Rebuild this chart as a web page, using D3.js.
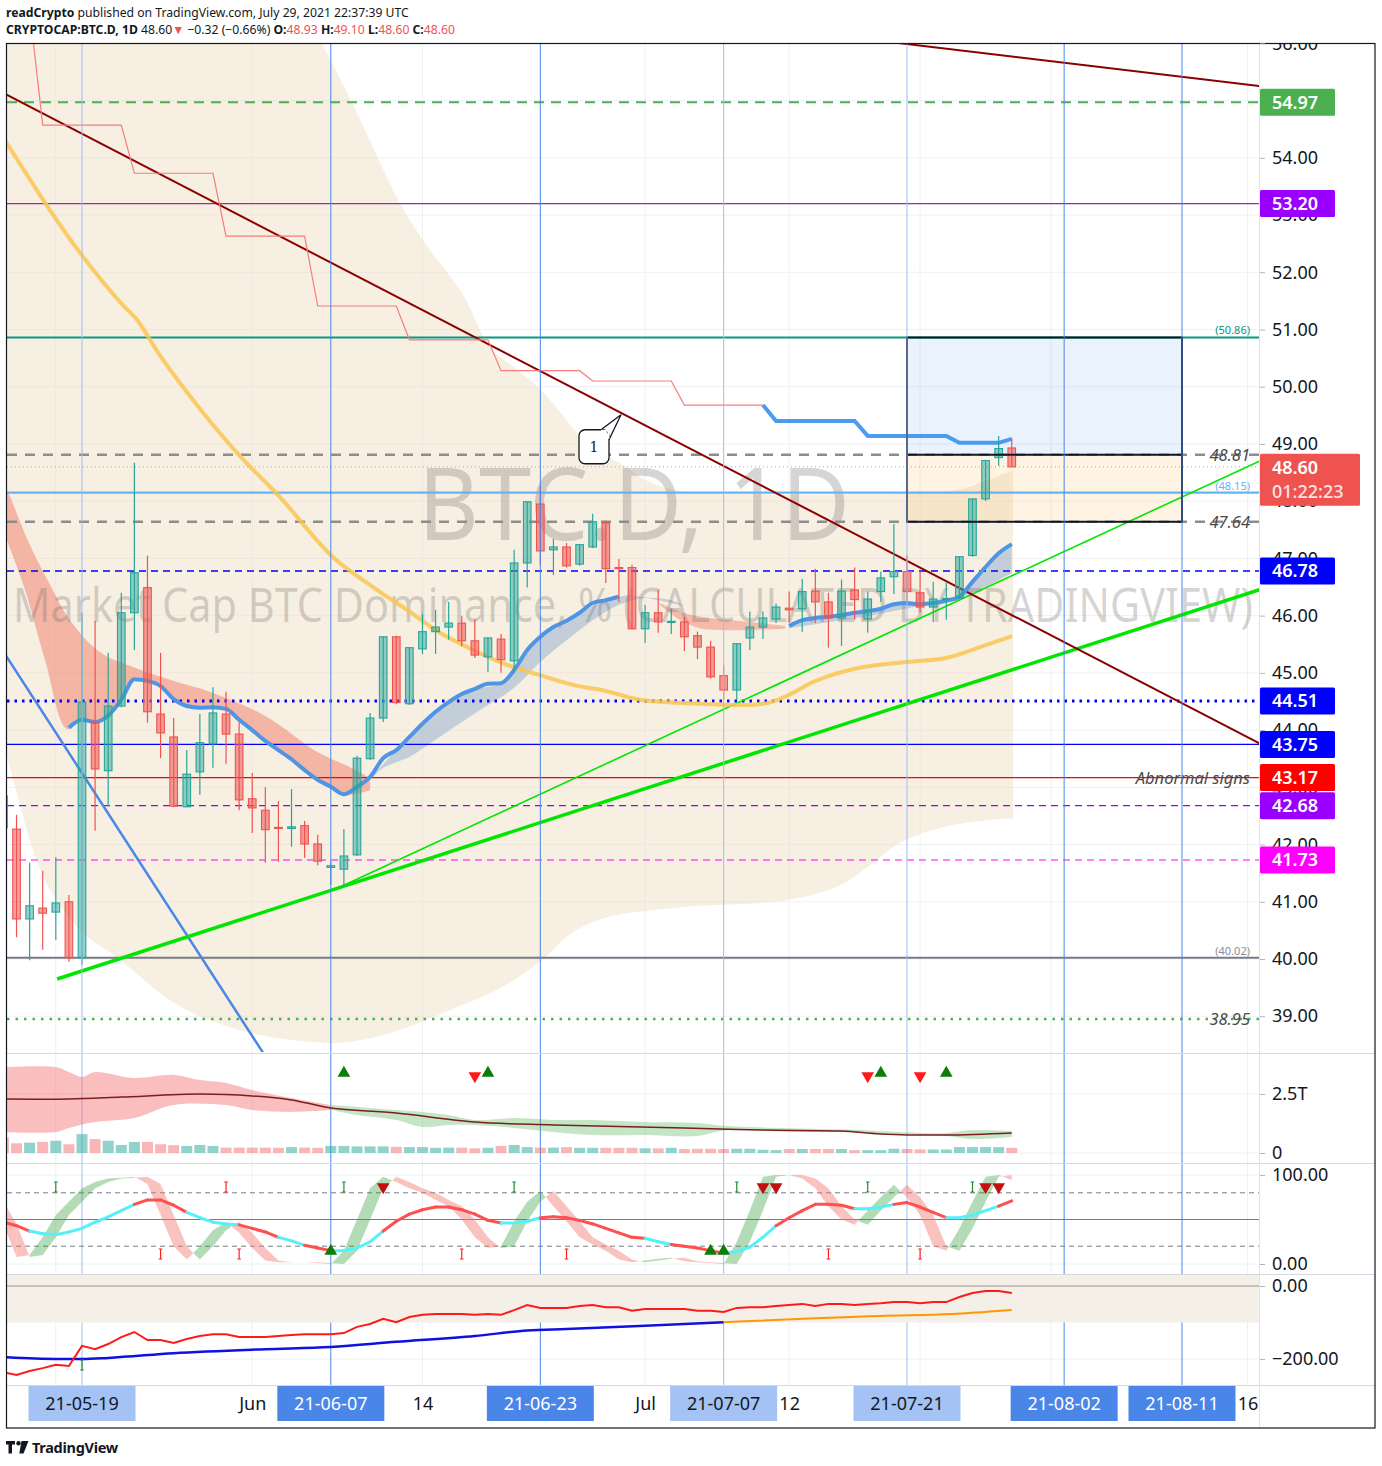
<!DOCTYPE html>
<html><head><meta charset="utf-8">
<script src="https://cdn.jsdelivr.net/npm/d3@7/dist/d3.min.js"></script>
<style>
html,body{margin:0;padding:0;background:#fff;}
svg{display:block;font-family:"Noto Sans","Open Sans",sans-serif;}
</style></head><body>
<svg id="c" width="1382" height="1466"></svg>
<script>
// ---------------- DATA ----------------
const dates = [
"2021-05-13","2021-05-14","2021-05-15","2021-05-16","2021-05-17","2021-05-18","2021-05-19","2021-05-20","2021-05-21","2021-05-22",
"2021-05-23","2021-05-24","2021-05-25","2021-05-26","2021-05-27","2021-05-28","2021-05-29","2021-05-30","2021-05-31",
"2021-06-01","2021-06-02","2021-06-03","2021-06-04","2021-06-05","2021-06-06","2021-06-07","2021-06-08","2021-06-09","2021-06-10",
"2021-06-11","2021-06-12","2021-06-13","2021-06-14","2021-06-15","2021-06-16","2021-06-17","2021-06-18","2021-06-19","2021-06-20",
"2021-06-21","2021-06-22","2021-06-23","2021-06-24","2021-06-25","2021-06-26","2021-06-27","2021-06-28","2021-06-29","2021-06-30",
"2021-07-01","2021-07-02","2021-07-03","2021-07-04","2021-07-05","2021-07-06","2021-07-07","2021-07-08","2021-07-09","2021-07-10",
"2021-07-11","2021-07-12","2021-07-13","2021-07-14","2021-07-15","2021-07-16","2021-07-17","2021-07-18","2021-07-19","2021-07-20",
"2021-07-21","2021-07-22","2021-07-23","2021-07-24","2021-07-25","2021-07-26","2021-07-27","2021-07-28","2021-07-29"];

const open = [42.85,42.27,40.70,40.89,40.82,41.00,40.02,44.13,43.29,44.42,46.05,46.49,44.28,43.88,42.66,43.27,43.76,44.28,43.93,
42.80,42.60,42.30,42.28,42.33,42.01,41.60,41.57,41.82,43.50,44.21,45.63,44.46,45.42,45.72,45.80,45.87,45.56,45.28,45.59,45.21,46.92,47.95,47.15,47.20,46.90,47.20,47.62,46.84,46.84,
45.77,46.05,45.88,45.89,45.65,45.45,44.95,44.70,45.61,45.80,45.94,46.13,46.12,46.43,46.24,45.96,46.45,45.94,46.42,46.68,46.77,46.40,46.15,46.28,46.31,47.05,48.04,48.76,48.93];
const high = [42.90,42.52,41.68,41.54,41.78,41.12,46.05,45.91,45.35,46.40,48.67,47.05,45.35,44.21,43.65,44.28,44.75,44.67,44.14,
43.25,43.00,42.76,42.97,42.41,42.17,41.70,42.27,43.55,44.30,45.63,45.65,45.44,46.03,46.10,46.24,46.00,45.94,45.62,45.68,47.15,47.99,48.25,47.34,47.27,47.24,47.78,47.66,46.99,46.89,
46.19,46.45,46.12,45.98,45.72,45.56,45.14,45.51,46.07,46.07,46.21,46.42,46.64,46.82,46.40,46.63,46.84,46.42,46.77,47.60,47.05,46.77,46.59,46.57,47.03,48.04,48.71,49.14,49.10];
const low = [42.25,40.38,39.98,40.16,40.33,39.95,39.90,42.24,42.67,44.40,45.40,44.13,43.51,42.65,42.66,42.87,43.34,43.41,42.60,
42.20,41.68,41.70,41.96,41.77,41.64,41.30,41.26,41.80,43.48,44.14,44.45,44.44,45.33,45.33,45.58,45.47,45.26,45.02,45.00,45.00,46.49,46.89,46.71,46.84,46.87,47.18,46.57,46.24,45.77,
45.52,45.70,45.68,45.38,45.24,44.90,44.53,44.53,45.40,45.59,45.87,45.87,45.72,45.87,45.44,45.47,45.93,45.70,46.24,46.38,46.25,46.05,45.89,45.93,46.29,47.03,48.00,48.62,48.60];
const close = [42.29,40.70,40.93,40.80,40.98,40.02,44.49,43.32,44.42,46.05,46.75,44.32,43.95,42.67,43.23,43.78,44.30,43.93,42.78,
42.64,42.26,42.28,42.31,42.01,41.71,41.63,41.80,43.51,44.21,45.63,44.48,45.44,45.72,45.80,45.87,45.56,45.31,45.61,45.23,46.92,47.99,47.13,47.20,46.87,47.24,47.64,46.82,46.82,45.77,
46.05,45.89,45.90,45.63,45.45,44.93,44.70,45.51,45.80,45.96,46.15,46.10,46.42,46.24,45.96,46.43,46.28,46.29,46.66,46.77,46.42,46.15,46.29,46.30,47.03,48.04,48.71,48.92,48.60];

// volume (T)
const volume = [0.66,0.41,0.44,0.47,0.52,0.37,0.80,0.59,0.52,0.34,0.47,0.47,0.37,0.33,0.30,0.34,0.30,0.23,0.23,
0.23,0.23,0.22,0.25,0.23,0.22,0.30,0.30,0.28,0.28,0.28,0.26,0.25,0.25,0.22,0.23,0.23,0.20,0.22,0.30,0.34,0.25,0.23,0.23,0.25,0.22,0.22,0.22,0.22,0.22,
0.20,0.20,0.22,0.17,0.18,0.18,0.17,0.18,0.18,0.14,0.12,0.17,0.17,0.17,0.17,0.17,0.12,0.12,0.12,0.18,0.17,0.15,0.15,0.15,0.25,0.25,0.25,0.25,0.22];

// stepped stop line (daily values, null = not drawn)
const stepLine = [null,null,56.6,54.57,54.57,54.57,54.57,54.57,54.57,54.57,53.73,53.73,53.73,53.73,53.73,53.73,53.73,
52.63,52.63,52.63,52.63,52.63,52.63,52.63,51.41,51.41,51.41,51.41,51.41,51.41,51.41,50.82,50.82,50.82,50.82,50.82,50.82,50.82,
50.28,50.28,50.28,50.28,50.28,50.28,50.28,50.10,50.10,50.10,50.10,50.10,50.10,50.10,49.68,49.68,49.68,49.68,49.68,49.68,49.68,
49.40,49.40,49.40,49.40,49.40,49.40,49.40,49.14,49.14,49.14,49.14,49.14,49.14,49.14,49.02,49.02,49.02,49.02,49.09];
const stepSwitchDate = "2021-07-10";

// blue moving average (null = gap)
const maLine = [null,null,null,null,null,44.04,44.18,44.14,44.25,44.53,44.89,44.86,44.77,44.54,44.42,44.39,44.40,44.37,44.18,
44.00,43.81,43.65,43.49,43.30,43.13,43.01,42.88,43.01,43.18,43.51,43.65,43.88,44.11,44.32,44.49,44.63,44.72,44.81,44.82,45.05,45.40,45.63,45.80,45.91,46.05,46.22,46.27,46.33,
null,null,null,null,null,null,null,null,null,null,null,null,
45.82,45.92,45.96,45.98,46.01,46.05,46.08,46.12,46.20,46.22,46.20,46.22,46.26,46.33,46.59,46.85,47.09,47.25];

// bands: [day index since 2021-05-13, value]
const pinkBandTop = [[0,48.28],[0.27,48.19],[2.03,47.23],[3.56,46.54],[5.08,45.92],[7.37,45.36],[10.05,45.09],[12.72,44.88],[16.0,44.65],[20.13,44.23],[23.94,43.62],[26.47,43.35],[28.0,43.16]];
const pinkBandBottom = [[0,47.50],[0.27,47.32],[1.65,46.45],[3.18,45.22],[4.85,44.02],[6,44.18],[7.14,44.14],[7.99,44.25],[9.05,44.56],[10.05,44.91],[11.04,44.86],[12.03,44.77],[13.03,44.54],[14.02,44.42],[15.01,44.39],[16,44.40],[17,44.37],[17.99,44.18],[19.97,43.81],[22.04,43.49],[24.02,43.13],[25.01,43.01],[26.08,42.87],[28.0,42.95]];
const blueBand1Top = [[26,42.88],[28,43.18],[30,43.65],[32,44.11],[34,44.49],[36,44.72],[38,44.82],[40,45.40],[42,45.80],[44,46.05],[46,46.27],[47,46.33],[48,46.35],[50,46.27],[52,46.17]];
const blueBand1Bottom = [[26,42.87],[27,42.95],[28,43.13],[29,43.34],[30,43.44],[31,43.53],[33,43.83],[35,44.14],[37,44.44],[39,44.74],[41,45.19],[43,45.57],[45,45.92],[47,46.19],[49,46.31],[51,46.27],[52,46.17]];
const pinkBand2Top = [[50.1,46.22],[52.2,46.03],[54.7,45.94],[57,45.89],[59.7,45.82]];
const pinkBand2Bottom = [[50.1,46.19],[51.7,45.92],[53.2,45.78],[54.7,45.75],[57,45.75],[59.7,45.77]];
const blueBand2Bottom = [[60,45.78],[62,45.85],[64,45.92],[66,45.99],[68,46.08],[70,46.17],[72,46.24],[73,46.31],[74,46.40],[75,46.50],[76,46.62],[77,46.74]];

const cloudTop = [[0,60.25],[18.83,58.5],[22.65,56.76],[24.33,56.0],[26.77,54.89],[30.44,53.14],[32.58,52.39],[35.02,51.64],[37.16,50.69],[39.06,50.33],[40.82,49.99],[42.5,49.56],[43.95,49.16],[45.56,48.86],[47.31,48.63],[49.38,48.33],[51.67,48.18],[57.01,48.12],[64.65,48.12],[70.76,48.15],[73.05,48.21],[74.96,48.35],[77.1,48.54]];
const cloudBottom = [[0,43.86],[0.27,43.56],[1.27,42.69],[2.26,41.90],[3.56,41.21],[6.08,40.45],[8.67,40.03],[12.72,39.28],[15.77,38.93],[19.59,38.67],[22.65,38.57],[24.94,38.53],[27.23,38.58],[30.28,38.76],[34.1,39.11],[37.92,39.49],[40.97,39.95],[43.5,40.47],[46.09,40.73],[49.91,40.86],[53.2,40.93],[57.8,40.98],[60.83,41.07],[63.89,41.29],[66.17,41.64],[68.47,42.03],[71.52,42.29],[74.58,42.41],[77.1,42.46]];

const yellowMA = [[0,54.35],[3.40,53.14],[5.85,52.34],[8.98,51.46],[10.2,51.17],[12.03,50.52],[15.09,49.59],[18.14,48.77],[21.12,48.07],[25.17,47.02],[28.22,46.50],[30.82,46.10],[33.34,45.70],[35.86,45.40],[38.45,45.14],[40.97,44.96],[43.5,44.79],[46.09,44.68],[48.61,44.53],[52.43,44.47],[58.08,44.46],[60.29,44.65],[61.82,44.84],[65.18,45.08],[69.0,45.19],[71.98,45.26],[74.58,45.45],[77.02,45.64]];

// trend lines [day index, value]
const trendDown = [[0,55.13],[96,43.76]];
const trendDownUpper = [[66,56.07],[96,55.25]];
const trendUpThin = [[26,41.29],[96,48.71]];
const trendUpThick = [[4.1,39.65],[96,46.46]];
const trendBlue = [[0,45.37],[20,38.30]];

// horizontal levels
const levelValues = [54.97, 53.20, 50.86, 48.81, 48.60, 48.15, 47.64, 46.78, 44.51, 43.75, 43.17, 42.68, 41.73, 40.02, 38.95];
const levelTexts  = ["", "", "(50.86)", "48.81", "", "(48.15)", "47.64", "", "", "", "Abnormal signs", "", "", "(40.02)", "38.95"];
const axisBoxValues = [54.97, 53.20, 46.78, 44.51, 43.75, 43.17, 42.68, 41.73];
const lastPrice = 48.60, countdown = "01:22:23";

// position box
const boxDates = ["2021-07-21","2021-08-11"];
const boxValues = [50.86, 48.81, 47.64];
const calloutPoint = [47.16, 49.51];

// ticks
const priceTicks = [39,40,41,42,43,44,45,46,47,48,49,50,51,52,53,54,55,56];
const timeTickDates = ["2021-06-01","2021-06-14","2021-07-01","2021-07-12","2021-08-16"];
const timeTickLabels = ["Jun","14","Jul","12","16"];
const gridDates = ["2021-05-17","2021-06-01","2021-06-14","2021-07-01","2021-07-12","2021-07-22","2021-08-01","2021-08-16"];
const markedDates = ["2021-05-19","2021-06-07","2021-06-23","2021-07-07","2021-07-21","2021-08-02","2021-08-11"];
const markedDark  = [false,true,true,false,false,true,true];

// volume pane indicator
const volMA = [[0,2.29],[5,2.29],[9,2.37],[15,2.5],[19,2.42],[22,2.25],[25,1.91],[30,1.69],[36,1.31],[42,1.19],[52,1.06],[58,0.97],[64,0.93],[67,0.81],[72,0.76],[77,0.85]];
const volPinkTop = [[0,3.64],[4,3.64],[5,3.43],[6,3.22],[7,3.43],[10,3.18],[13,3.31],[15,3.09],[17,2.97],[19,2.67],[22,2.33],[25,2.03]];
const volPinkBottom = [[0,0.89],[4,0.89],[5,1.06],[7,1.31],[10,1.48],[13,2.03],[17,2.03],[19,1.82],[22,1.74],[25,1.82]];
const volGreenTop = [[25,2.03],[27,1.95],[30,1.82],[32,1.74],[34,1.61],[36,1.40],[39,1.48],[42,1.40],[45,1.40],[49,1.31],[53,1.27],[55,1.15],[60,1.05],[65,0.98],[70,0.85],[72,0.85],[74,0.97],[77,0.93]];
const volGreenBottom = [[25,1.82],[27,1.61],[30,1.40],[32,1.10],[34,1.19],[36,1.19],[39,1.06],[42,0.89],[45,0.76],[49,0.76],[53,0.72],[55,0.95],[60,0.90],[65,0.88],[70,0.76],[72,0.72],[74,0.59],[77,0.68]];
const volUpSignals = ["2021-06-08","2021-06-19","2021-07-19","2021-07-24"];
const volDownSignals = ["2021-06-18","2021-07-18","2021-07-22"];

// oscillator pane
const oscK = [45,8,10,30,55,70,85,92,96,97,98,90,55,20,5,20,38,47,35,
18,4,2,2,2,1,0,15,50,85,98,92,85,80,72,65,50,30,18,20,48,70,82,65,48,30,22,15,5,2,
4,6,7,3,2,1,0,25,60,98,100,100,96,85,65,50,44,60,75,89,75,55,20,15,40,70,98,100,94];
const oscD = [70,45,8,10,30,55,70,85,92,96,97,98,90,55,20,5,20,38,47,
35,18,4,2,2,2,1,0,15,50,85,98,92,85,80,72,65,50,30,18,20,48,70,82,65,48,30,22,15,5,
2,4,6,7,3,2,1,0,25,60,98,100,100,96,85,65,50,44,60,75,89,75,55,20,15,40,70,98,100];
const oscSlow = [47,43,37,34,33,36,40,47,53,60,67,72,72,66,58,52,47,45,44,
40,36,30,26,21,18,15,15,18,25,37,48,56,61,64,64,61,56,49,46,46,48,52,53,52,49,45,40,35,30,
29,25,22,20,18,15,12,14,19,30,43,52,60,67,67,66,62,62,64,67,69,64,58,52,52,55,60,65,71];
const oscRising = [0,0,1,1,1,1,1,1,1,1,0,0,0,0,1,1,1,1,0,0,0,1,1,0,0,1,1,1,1,0,0,0,0,0,0,0,0,0,1,1,1,0,0,0,0,0,0,0,0,1,1,0,0,0,0,1,1,1,1,0,0,0,0,0,0,1,1,1,0,0,0,0,1,1,1,1,0,0];
const oscGreenMarksTop = ["2021-05-17","2021-06-08","2021-06-21","2021-07-08","2021-07-18","2021-07-26"];
const oscRedMarksTop = ["2021-05-30"];
const oscRedMarksBottom = ["2021-05-25","2021-05-31","2021-06-17","2021-06-25","2021-07-15","2021-07-22"];
const oscDownTriangles = ["2021-06-11","2021-07-10","2021-07-11","2021-07-27","2021-07-28"];
const oscUpTriangles = ["2021-06-07","2021-07-06","2021-07-07"];

// bottom pane
const botRed = [-236,-244,-233,-225,-216,-219,-164,-173,-159,-140,-126,-148,-148,-156,-145,-137,-132,-132,-140,
-140,-140,-137,-134,-132,-132,-132,-129,-112,-104,-90,-99,-85,-79,-77,-77,-77,-79,-77,-79,-66,-52,-60,-60,-60,-55,-52,-58,-58,-68,
-63,-63,-63,-63,-68,-68,-71,-60,-58,-58,-55,-52,-49,-55,-49,-49,-52,-49,-47,-44,-44,-47,-44,-44,-30,-19,-14,-14,-19];
const botBlue = [[0,-195],[4,-200],[6,-200],[8,-197],[13,-184],[20,-173],[25,-167],[30,-153],[36,-137],[40,-122],[43,-118],[49,-109],[55,-99]];
const botOrange = [[55,-99],[67,-82],[72.5,-77],[75,-71],[77,-66]];
const botMark = ["2021-05-19"];

// ---------------- SCALES ----------------
const START = new Date("2021-05-13T00:00:00Z");
const dayIdx = s => d3.utcDay.count(START, new Date(s + "T00:00:00Z"));
const di = dates.map(dayIdx);
const x = d3.scaleLinear().domain([dayIdx("2021-05-19"), dayIdx("2021-08-11")]).range([82, 1182]);
const yM = d3.scaleLinear().domain([38.375, 56.006]).range([1052, 43]);
const yV = d3.scaleLinear().domain([0, 2.5]).range([1153, 1094]);
const yO = d3.scaleLinear().domain([0, 100]).range([1264, 1175]);
const yB = d3.scaleLinear().domain([-200, 0]).range([1359, 1286]);

const svg = d3.select("#c");
const defs = svg.append("defs");
const PL = 7, PR = 1259;
function clip(id, x0, y0, x1, y1){ defs.append("clipPath").attr("id",id).append("rect").attr("x",x0).attr("y",y0).attr("width",x1-x0).attr("height",y1-y0); }
clip("cm",PL,43,PR,1052); clip("cv",PL,1053,PR,1163); clip("co",PL,1163,PR,1274); clip("cb",PL,1274,PR,1385);
clip("am",1260,43,1376,1052); clip("all",PL,43,PR,1385);

svg.append("rect").attr("width",1382).attr("height",1466).attr("fill","#fff");

// header
const hdr = svg.append("g").attr("font-size",12.2).attr("fill","#131722");
const h1 = hdr.append("text").attr("x",6).attr("y",17);
h1.append("tspan").attr("font-weight","bold").text("readCrypto");
h1.append("tspan").text(" published on TradingView.com, July 29, 2021 22:37:39 UTC");
const h2 = hdr.append("text").attr("x",6).attr("y",34);
h2.append("tspan").attr("font-weight","bold").text("CRYPTOCAP:BTC.D, 1D");
h2.append("tspan").text("  48.60");
h2.append("tspan").attr("fill","#ef5350").text("\u25BC");
h2.append("tspan").text(" \u22120.32 (\u22120.66%) ");
[["O:","48.93"],["H:","49.10"],["L:","48.60"],["C:","48.60"]].forEach(([k,v])=>{
  h2.append("tspan").attr("font-weight","bold").text(k);
  h2.append("tspan").attr("fill","#ef5350").text(v+" ");
});

// grid
const grid = svg.append("g").attr("clip-path","url(#all)");
priceTicks.forEach(v=>grid.append("line").attr("x1",PL).attr("x2",PR).attr("y1",yM(v)).attr("y2",yM(v)).attr("stroke","#eef0f4"));
[0,2.5].forEach(v=>grid.append("line").attr("x1",PL).attr("x2",PR).attr("y1",yV(v)).attr("y2",yV(v)).attr("stroke","#eef0f4"));
[0,100].forEach(v=>grid.append("line").attr("x1",PL).attr("x2",PR).attr("y1",yO(v)).attr("y2",yO(v)).attr("stroke","#eef0f4"));
[-200].forEach(v=>grid.append("line").attr("x1",PL).attr("x2",PR).attr("y1",yB(v)).attr("y2",yB(v)).attr("stroke","#eef0f4"));
gridDates.forEach(d=>grid.append("line").attr("x1",x(dayIdx(d))).attr("x2",x(dayIdx(d))).attr("y1",43).attr("y2",1385).attr("stroke","#eef0f4"));

// ---------------- MAIN PANE ----------------
const gm = svg.append("g").attr("clip-path","url(#cm)");
const lineM = d3.line().x(d=>x(d[0])).y(d=>yM(d[1]));
const smoothM = d3.line().x(d=>x(d[0])).y(d=>yM(d[1])).curve(d3.curveCatmullRom);
function bandPath(top, bottom, gen){
  const a = gen(top), b = gen(bottom.slice().reverse());
  return a + "L" + b.slice(1) + "Z";
}
// cloud
gm.append("path").attr("d",bandPath(cloudTop,cloudBottom,smoothM)).attr("fill","rgba(237,220,190,0.45)");
// position box fills
const bx0 = x(dayIdx(boxDates[0])), bx1 = x(dayIdx(boxDates[1]));
gm.append("rect").attr("x",bx0).attr("y",yM(boxValues[0])).attr("width",bx1-bx0).attr("height",yM(boxValues[1])-yM(boxValues[0])).attr("fill","rgba(66,133,244,0.11)");
gm.append("rect").attr("x",bx0).attr("y",yM(boxValues[1])).attr("width",bx1-bx0).attr("height",yM(boxValues[2])-yM(boxValues[1])).attr("fill","rgba(255,152,0,0.11)");
// MA bands
gm.append("path").attr("d",bandPath(pinkBandTop,pinkBandBottom,smoothM)).attr("fill","rgba(240,110,90,0.45)");
gm.append("path").attr("d",bandPath(blueBand1Top,blueBand1Bottom,smoothM)).attr("fill","rgba(90,140,200,0.33)");
gm.append("path").attr("d",bandPath(pinkBand2Top,pinkBand2Bottom,smoothM)).attr("fill","rgba(240,110,90,0.4)");
const ma2Top = di.map((d,i)=>[d,maLine[i]]).filter(p=>p[0]>=60 && p[1]!=null);
gm.append("path").attr("d",bandPath(ma2Top,blueBand2Bottom,smoothM)).attr("fill","rgba(90,140,200,0.33)");

// watermark
gm.append("text").attr("x",634).attr("y",540).attr("text-anchor","middle").attr("font-size",100)
  .attr("textLength",432).attr("lengthAdjust","spacingAndGlyphs").attr("fill","rgba(110,105,100,0.28)").text("BTC.D, 1D");
gm.append("text").attr("x",633).attr("y",622).attr("text-anchor","middle").attr("font-size",47)
  .attr("textLength",1240).attr("lengthAdjust","spacingAndGlyphs").attr("fill","rgba(110,105,100,0.28)")
  .text("Market Cap BTC Dominance, % (CALCULATED BY TRADINGVIEW)");

// vertical marker lines (all panes)
const vl = svg.append("g").attr("clip-path","url(#all)");
markedDates.forEach((d,i)=>vl.append("line").attr("x1",x(dayIdx(d))).attr("x2",x(dayIdx(d))).attr("y1",43).attr("y2",1385)
  .attr("stroke",markedDark[i]?"#4a86e8":"#9dbdf2").attr("stroke-width",1));

// horizontal levels
const levelStyle = [
 {c:"#4caf50",w:2,d:"10,7"},{c:"#9c27b0",w:1.3,d:null},{c:"#089981",w:2,d:null},{c:"#8d8d8d",w:2.5,d:"10,8"},
 {c:"#f28b89",w:1,d:"1,3"},{c:"#64b5f6",w:2.2,d:null},{c:"#8d8d8d",w:2.5,d:"10,8"},{c:"#0000ff",w:1.5,d:"7,5"},
 {c:"#0000ff",w:3,d:"2.5,5"},{c:"#0000ff",w:1.3,d:null},{c:"#ff0000",w:1.3,d:null},{c:"#9900ff",w:1.3,d:"7,5"},
 {c:"#ff00ff",w:1.2,d:"7,5"},{c:"#787b86",w:2,d:null},{c:"#4caf50",w:2.5,d:"2.5,6"}];
levelValues.forEach((v,i)=>{
  const s = levelStyle[i];
  gm.append("line").attr("x1",PL).attr("x2",PR).attr("y1",yM(v)).attr("y2",yM(v))
    .attr("stroke",s.c).attr("stroke-width",s.w).attr("stroke-dasharray",s.d);
});

// trend lines
gm.append("path").attr("d",lineM(trendBlue)).attr("stroke","#4a86e8").attr("stroke-width",2.5).attr("fill","none");
gm.append("path").attr("d",lineM(trendUpThick)).attr("stroke","#00e600").attr("stroke-width",3.5).attr("fill","none");
gm.append("path").attr("d",lineM(trendUpThin)).attr("stroke","#00e600").attr("stroke-width",1.6).attr("fill","none");
gm.append("path").attr("d",smoothM(yellowMA)).attr("stroke","rgba(249,198,80,0.85)").attr("stroke-width",4).attr("fill","none");
gm.append("path").attr("d",lineM(trendDown)).attr("stroke","#8b0000").attr("stroke-width",2).attr("fill","none");
gm.append("path").attr("d",lineM(trendDownUpper)).attr("stroke","#8b0000").attr("stroke-width",2).attr("fill","none");

// step line
const swI = dayIdx(stepSwitchDate);
const stepPts = di.map((d,i)=>[d,stepLine[i]]).filter(p=>p[1]!=null);
gm.append("path").attr("d",lineM(stepPts.filter(p=>p[0]<=swI))).attr("stroke","#f77c7c").attr("stroke-width",1.2).attr("fill","none");
gm.append("path").attr("d",lineM(stepPts.filter(p=>p[0]>=swI))).attr("stroke","#4b9cf0").attr("stroke-width",4).attr("fill","none");

// MA line
gm.append("path").attr("d",d3.line().defined(d=>d[1]!=null).x(d=>x(d[0])).y(d=>yM(d[1])).curve(d3.curveMonotoneX)(di.map((d,i)=>[d,maLine[i]])))
  .attr("stroke","#4f95e6").attr("stroke-width",4).attr("fill","none").attr("stroke-linejoin","round");

// candles
const cg = gm.append("g");
di.forEach((d,i)=>{
  const up = close[i] >= open[i];
  const sc = up ? "#26a69a" : "#ef5350";
  const fc = up ? "rgba(38,166,154,0.5)" : "rgba(239,83,80,0.55)";
  const cx = x(d);
  cg.append("line").attr("x1",cx).attr("x2",cx).attr("y1",yM(high[i])).attr("y2",yM(low[i])).attr("stroke",sc).attr("stroke-width",1.2);
  const yt = yM(Math.max(open[i],close[i])), yb = yM(Math.min(open[i],close[i]));
  cg.append("rect").attr("x",cx-3.8).attr("y",yt).attr("width",7.6).attr("height",Math.max(1,yb-yt))
    .attr("fill",fc).attr("stroke",sc).attr("stroke-width",1.1);
});

// box border
gm.append("rect").attr("x",bx0).attr("y",yM(boxValues[0])).attr("width",bx1-bx0).attr("height",yM(boxValues[2])-yM(boxValues[0]))
  .attr("fill","none").attr("stroke","#131722").attr("stroke-width",2);
gm.append("line").attr("x1",bx0).attr("x2",bx1).attr("y1",yM(boxValues[1])).attr("y2",yM(boxValues[1])).attr("stroke","#131722").attr("stroke-width",2);

// callout
const tx = x(calloutPoint[0]), ty = yM(calloutPoint[1]);
const cb = gm.append("g");
cb.append("path").attr("d",`M${tx-20},${ty+15} L${tx},${ty} L${tx-12},${ty+25}`).attr("fill","#fff").attr("stroke","#131722").attr("stroke-width",1.3);
cb.append("rect").attr("x",tx-42).attr("y",ty+15).attr("width",30).attr("height",34).attr("rx",6).attr("fill","#fff").attr("stroke","#131722").attr("stroke-width",1.3);
cb.append("path").attr("d",`M${tx-20},${ty+16} L${tx-12.5},${ty+16} L${tx-12.5},${ty+24}`).attr("stroke","#fff").attr("stroke-width",1.8).attr("fill","none");
cb.append("text").attr("x",tx-27).attr("y",ty+37).attr("text-anchor","middle").attr("font-family","DejaVu Serif, serif").attr("font-size",14).attr("fill","#131722").text("1");

// level texts
levelValues.forEach((v,i)=>{
  const t = levelTexts[i]; if(!t) return;
  const small = t.startsWith("(");
  const el = gm.append("text").attr("x",1250).attr("text-anchor","end");
  if(small){
    el.attr("y",yM(v)-3).attr("font-size",11).attr("fill",levelStyle[i].c==="#787b86"?"#8a8d96":levelStyle[i].c).text(t);
  } else {
    el.attr("y",yM(v)+6).attr("font-size",16.5).attr("font-style","italic").attr("fill","#4a4a4a").text(t);
  }
});

// ---------------- VOLUME PANE ----------------
const gv = svg.append("g").attr("clip-path","url(#cv)");
const lineV = d3.line().x(d=>x(d[0])).y(d=>yV(d[1])).curve(d3.curveCatmullRom);
gv.append("path").attr("d",bandPath(volPinkTop,volPinkBottom,lineV)).attr("fill","rgba(245,100,100,0.42)");
gv.append("path").attr("d",bandPath(volGreenTop,volGreenBottom,lineV)).attr("fill","rgba(76,175,80,0.32)");
gv.append("path").attr("d",lineV(volMA)).attr("stroke","#7a1e1e").attr("stroke-width",1.5).attr("fill","none");
di.forEach((d,i)=>{
  const up = close[i] >= open[i];
  gv.append("rect").attr("x",x(d)-5.5).attr("width",11).attr("y",yV(volume[i])).attr("height",yV(0)-yV(volume[i]))
    .attr("fill",up?"rgba(38,166,154,0.5)":"rgba(239,83,80,0.42)");
});
const tri = d3.symbol().type(d3.symbolTriangle).size(70);
volUpSignals.forEach(d=>gv.append("path").attr("d",tri()).attr("transform",`translate(${x(dayIdx(d))},1073)`).attr("fill","#0a7d0a"));
volDownSignals.forEach(d=>gv.append("path").attr("d",tri()).attr("transform",`translate(${x(dayIdx(d))},1076) rotate(180)`).attr("fill","#ff1a1a"));

// ---------------- OSCILLATOR PANE ----------------
const go = svg.append("g").attr("clip-path","url(#co)");
[80,20].forEach(v=>go.append("line").attr("x1",PL).attr("x2",PR).attr("y1",yO(v)).attr("y2",yO(v)).attr("stroke","#787b86").attr("stroke-dasharray","5,4"));
go.append("line").attr("x1",PL).attr("x2",PR).attr("y1",yO(50)).attr("y2",yO(50)).attr("stroke","#787b86").attr("stroke-width",1.2);
function poly(pts, green){
  go.append("path").attr("d","M"+pts.map(p=>`${p[0]},${yO(p[1])}`).join("L")+"Z")
    .attr("fill",green?"rgba(56,160,60,0.38)":"rgba(245,120,110,0.45)");
}
for(let i=0;i<di.length-1;i++){
  const a0 = oscK[i]-oscD[i], a1 = oscK[i+1]-oscD[i+1];
  const x0 = x(di[i]), x1 = x(di[i+1]);
  if(a0*a1<0){
    const t = a0/(a0-a1), xm = x0+(x1-x0)*t, vm = oscK[i]+(oscK[i+1]-oscK[i])*t;
    poly([[x0,oscK[i]],[xm,vm],[x0,oscD[i]]], a0>0);
    poly([[xm,vm],[x1,oscK[i+1]],[x1,oscD[i+1]]], a1>0);
  } else if(a0!==0 || a1!==0){
    poly([[x0,oscK[i]],[x1,oscK[i+1]],[x1,oscD[i+1]],[x0,oscD[i]]], (a0+a1)>0);
  }
}
for(let i=0;i<di.length-1;i++){
  go.append("line").attr("x1",x(di[i])).attr("x2",x(di[i+1])).attr("y1",yO(oscSlow[i])).attr("y2",yO(oscSlow[i+1]))
    .attr("stroke",oscRising[i]?"#55f0fa":"#ff4f4f").attr("stroke-width",3).attr("stroke-linecap","round");
}
function iMark(g, cx, cy, col){
  g.append("path").attr("d",`M${cx-1.8},${cy-5}H${cx+1.8}M${cx},${cy-5}V${cy+5}M${cx-1.8},${cy+5}H${cx+1.8}`)
    .attr("stroke",col).attr("stroke-width",1.2).attr("fill","none");
}
oscGreenMarksTop.forEach(d=>iMark(go,x(dayIdx(d)),1187,"#1e8c2a"));
oscRedMarksTop.forEach(d=>iMark(go,x(dayIdx(d)),1187,"#ff2020"));
oscRedMarksBottom.forEach(d=>iMark(go,x(dayIdx(d)),1254,"#ff2020"));
oscDownTriangles.forEach(d=>go.append("path").attr("d",tri()).attr("transform",`translate(${x(dayIdx(d))},1187) rotate(180)`).attr("fill","#c01010"));
oscUpTriangles.forEach(d=>go.append("path").attr("d",tri()).attr("transform",`translate(${x(dayIdx(d))},1251)`).attr("fill","#0a7d0a"));

// ---------------- BOTTOM PANE ----------------
const gb = svg.append("g").attr("clip-path","url(#cb)");
gb.append("rect").attr("x",PL).attr("y",1274).attr("width",PR-PL).attr("height",yB(-100)-1274).attr("fill","#f4efe7");
gb.append("line").attr("x1",PL).attr("x2",PR).attr("y1",yB(0)).attr("y2",yB(0)).attr("stroke","#b8b4ad").attr("stroke-width",1.5);
const lineB = d3.line().x(d=>x(d[0])).y(d=>yB(d[1]));
gb.append("path").attr("d",lineB.curve(d3.curveMonotoneX)(botBlue)).attr("stroke","#1010e0").attr("stroke-width",2.5).attr("fill","none");
gb.append("path").attr("d",lineB.curve(d3.curveMonotoneX)(botOrange)).attr("stroke","#ff9800").attr("stroke-width",2).attr("fill","none");
gb.append("path").attr("d",d3.line().x(d=>x(d[0])).y(d=>yB(d[1]))(di.map((d,i)=>[d,botRed[i]]))).attr("stroke","#ff1a1a").attr("stroke-width",2).attr("fill","none");
botMark.forEach(d=>iMark(gb,x(dayIdx(d)),1365,"#1e8c2a"));

// ---------------- SEPARATORS / FRAME ----------------
[1053,1163,1274,1385].forEach(y=>svg.append("line").attr("x1",6).attr("x2",1375).attr("y1",y+0.5).attr("y2",y+0.5).attr("stroke","#d6d9e0"));
svg.append("line").attr("x1",1259.5).attr("x2",1259.5).attr("y1",43).attr("y2",1428).attr("stroke","#e0e3eb");
svg.append("rect").attr("x",6.5).attr("y",43.5).attr("width",1368.5).attr("height",1384.5).attr("fill","none").attr("stroke","#131722").attr("stroke-width",1.2);

// ---------------- AXES ----------------
function styleAxis(g){
  g.select(".domain").remove();
  g.selectAll(".tick line").attr("stroke","#b2b5be");
  g.selectAll(".tick text").attr("font-size",18).attr("fill","#131722").attr("font-family","Noto Sans, sans-serif");
}
const am = svg.append("g").attr("clip-path","url(#am)").append("g").attr("transform","translate(1260,0)")
  .call(d3.axisRight(yM).tickValues(priceTicks).tickFormat(d3.format(".2f")).tickSize(5).tickPadding(7));
styleAxis(am);
const av = svg.append("g").attr("transform","translate(1260,0)")
  .call(d3.axisRight(yV).tickValues([0,2.5]).tickFormat(d=>d?"2.5T":"0").tickSize(5).tickPadding(7));
styleAxis(av);
const ao = svg.append("g").attr("transform","translate(1260,0)")
  .call(d3.axisRight(yO).tickValues([0,100]).tickFormat(d3.format(".2f")).tickSize(5).tickPadding(7));
styleAxis(ao);
const ab = svg.append("g").attr("transform","translate(1260,0)")
  .call(d3.axisRight(yB).tickValues([-200,0]).tickFormat(d3.format(".2f")).tickSize(5).tickPadding(7));
styleAxis(ab);

// price label boxes
const boxColors = ["#4caf50","#9900ff","#0000ff","#0000ff","#0000ff","#ff0000","#9900ff","#ff00ff"];
const lb = svg.append("g").attr("clip-path","url(#am)");
axisBoxValues.forEach((v,i)=>{
  lb.append("rect").attr("x",1260).attr("y",yM(v)-13.5).attr("width",75).attr("height",27).attr("rx",1.5).attr("fill",boxColors[i]);
  lb.append("text").attr("x",1272).attr("y",yM(v)+6.5).attr("font-size",18).attr("font-weight",600).attr("fill","#fff").text(d3.format(".2f")(v));
});
lb.append("rect").attr("x",1260).attr("y",yM(lastPrice)-13).attr("width",100).attr("height",52).attr("rx",1.5).attr("fill","#ef5350");
lb.append("text").attr("x",1272).attr("y",yM(lastPrice)+7).attr("font-size",18).attr("font-weight",600).attr("fill","#fff").text(d3.format(".2f")(lastPrice));
lb.append("text").attr("x",1272).attr("y",yM(lastPrice)+31).attr("font-size",18).attr("font-weight",500).attr("fill","#fde3e3").text(countdown);

// time axis
const at = svg.append("g").attr("transform","translate(0,1385)")
  .call(d3.axisBottom(x).tickValues(timeTickDates.map(dayIdx)).tickFormat((d,i)=>timeTickLabels[i]).tickSize(0).tickPadding(12));
styleAxis(at);
const fmt = d3.utcFormat("%y-%m-%d");
markedDates.forEach((d,i)=>{
  const cx = x(dayIdx(d));
  svg.append("rect").attr("x",cx-53.5).attr("y",1386).attr("width",107).attr("height",35).attr("fill",markedDark[i]?"#4a86e8":"#a4c2f4");
  svg.append("text").attr("x",cx).attr("y",1410).attr("text-anchor","middle").attr("font-size",18)
    .attr("fill",markedDark[i]?"#fff":"#131722").text(fmt(new Date(d+"T00:00:00Z")));
});

// footer logo
const lg = svg.append("g").attr("fill","#131722");
lg.append("path").attr("d","M6,1441h9v3.5h-3v9h-3.5v-9H6z");
lg.append("circle").attr("cx",18.5).attr("cy",1443.3).attr("r",2.2);
lg.append("path").attr("d","M21.5,1441h7l-5,12.5h-4.2z");
lg.append("text").attr("x",32).attr("y",1453).attr("font-size",14.5).attr("font-weight","bold").attr("letter-spacing",-0.3).text("TradingView");
</script></body></html>
